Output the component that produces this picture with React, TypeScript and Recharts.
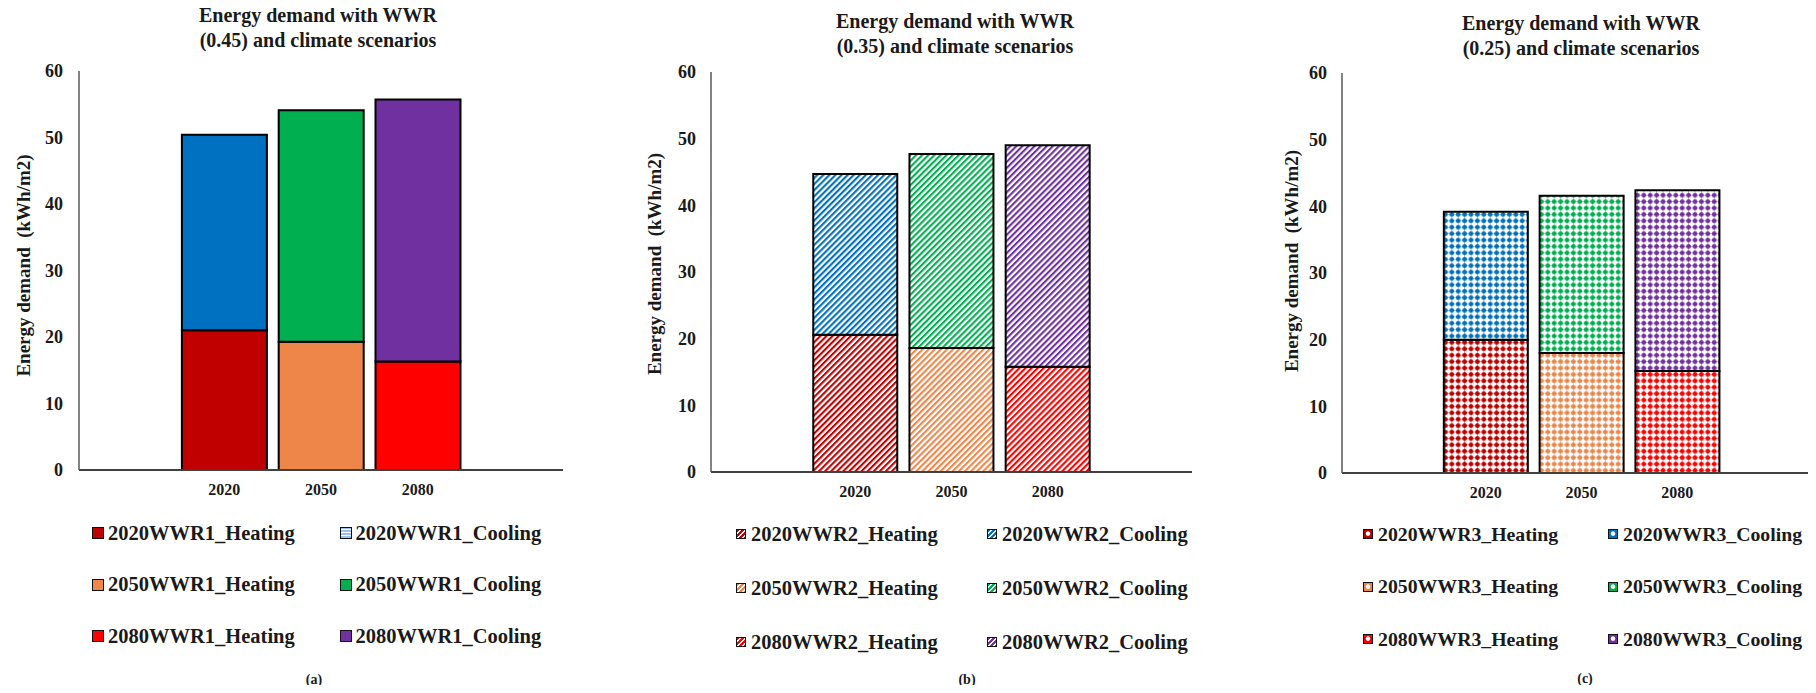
import React from 'react';
import { BarChart, Bar, XAxis, YAxis, Cell } from 'recharts';

// categories: an empty slot either side of the three years, as in the source chart
const categories = ['', '2020', '2050', '2080', ' '];
const years = ['2020', '2050', '2080'];
const yTicks = [0, 10, 20, 30, 40, 50, 60];

const heatingWWR1 = [21.0, 19.3, 16.3];
const coolingWWR1 = [29.4, 34.8, 39.4];
const heatingWWR2 = [20.6, 18.6, 15.8];
const coolingWWR2 = [24.1, 29.1, 33.2];
const heatingWWR3 = [20.0, 18.0, 15.3];
const coolingWWR3 = [19.2, 23.6, 27.1];

const heatingColors = ['#C00000', '#EE8649', '#FF0000'];
const coolingColors = ['#0070C0', '#00B050', '#7030A0'];

const FONT = "'Liberation Serif', 'Times New Roman', serif";
const INK = '#1a1a1a';

type Fill = 'solid' | 'stripes' | 'dots';

const panels = [
  {
    id: 'a', wwr: '0.45', tag: 'WWR1', fill: 'solid' as Fill,
    heating: heatingWWR1, cooling: coolingWWR1,
    left: 0, top: 71, bottom: 20, right: 37,
    labelDx: 23, labelDy: -5, tickGap: 16,
    titleX: 318, titleTop: 3,
    legendX: [92, 339.5], legendY: 533, legendStep: 51.5, box: 12, boxGap: 4, legendFont: 20.5,
    capX: 314, capY: 680,
  },
  {
    id: 'b', wwr: '0.35', tag: 'WWR2', fill: 'stripes' as Fill,
    heating: heatingWWR2, cooling: coolingWWR2,
    left: 632, top: 72, bottom: 18, right: 40,
    labelDx: 22, labelDy: -8, tickGap: 15,
    titleX: 955, titleTop: 9,
    legendX: [736, 987], legendY: 534, legendStep: 54, box: 10, boxGap: 5, legendFont: 20.5,
    capX: 967, capY: 680,
  },
  {
    id: 'c', wwr: '0.25', tag: 'WWR3', fill: 'dots' as Fill,
    heating: heatingWWR3, cooling: coolingWWR3,
    left: 1263, top: 73, bottom: 17, right: 42,
    labelDx: 28, labelDy: -12, tickGap: 15,
    titleX: 1581, titleTop: 11,
    legendX: [1363, 1608], legendY: 534, legendStep: 52.5, box: 10, boxGap: 5, legendFont: 19.8,
    capX: 1585, capY: 679,
  },
];

const AxisTitle = ({ viewBox, dx, dy }: any) => {
  const cx = viewBox.x + dx;
  const cy = viewBox.y + viewBox.height / 2 + dy;
  return (
    <text
      x={cx}
      y={cy}
      transform={`rotate(-90 ${cx} ${cy})`}
      textAnchor="middle"
      dominantBaseline="central"
      fill={INK}
      style={{ fontFamily: FONT, fontWeight: 700, fontSize: 19, whiteSpace: 'pre' }}
    >
      {'Energy demand  (kWh/m2)'}
    </text>
  );
};

function PatternDefs({ id, fill }: { id: string; fill: Fill }) {
  const all = [...heatingColors.map((c, i) => ['h' + i, c]), ...coolingColors.map((c, i) => ['c' + i, c])];
  if (fill === 'stripes') {
    return (
      <defs>
        {all.map(([k, c]) => (
          <pattern key={k} id={`${id}-${k}`} width={4.3} height={4.3} patternUnits="userSpaceOnUse" patternTransform="rotate(45)">
            <rect width={4.3} height={4.3} fill="#fff" />
            <rect width={2.1} height={4.3} fill={c} />
          </pattern>
        ))}
      </defs>
    );
  }
  if (fill === 'dots') {
    return (
      <defs>
        {all.map(([k, c]) => (
          <pattern key={k} id={`${id}-${k}`} width={6.4} height={6.4} patternUnits="userSpaceOnUse">
            <rect width={6.4} height={6.4} fill="#fff" />
            <path d="M0 3.2H6.4M3.2 0V6.4" stroke={c} strokeWidth={0.9} strokeOpacity={0.5} />
            <circle cx={3.2} cy={3.2} r={2.3} fill={c} />
          </pattern>
        ))}
      </defs>
    );
  }
  return null;
}

function swatchStyle(fill: Fill, color: string, odd: boolean): React.CSSProperties {
  if (fill === 'stripes') {
    return { background: `repeating-linear-gradient(135deg, ${color} 0 1.7px, #fff 1.7px 3.4px)` };
  }
  if (fill === 'dots') {
    return { background: `radial-gradient(circle at 50% 45%, #fff 0 30%, ${color} 45%)` };
  }
  if (odd) {
    return { background: 'repeating-linear-gradient(0deg, #9DC3E6 0 2px, #fff 2px 3px)' };
  }
  return { background: color };
}

function Panel({ p }: { p: (typeof panels)[number] }) {
  const data = categories.map((name) => {
    const i = years.indexOf(name);
    return { name, heating: i >= 0 ? p.heating[i] : null, cooling: i >= 0 ? p.cooling[i] : null };
  });
  const fillFor = (kind: 'h' | 'c', i: number) => {
    if (i < 0) return 'none';
    if (p.fill === 'solid') return kind === 'h' ? heatingColors[i] : coolingColors[i];
    return `url(#${p.id}-${kind}${i})`;
  };

  return (
    <>
      <div
        style={{
          position: 'absolute', left: p.titleX - 180, top: p.titleTop, width: 360,
          textAlign: 'center', fontSize: 20, fontWeight: 700, lineHeight: '25px', color: INK,
        }}
      >
        Energy demand with WWR
        <br />({p.wwr}) and climate scenarios
      </div>

      <div style={{ position: 'absolute', left: p.left, top: 0 }}>
        <BarChart
          width={600}
          height={520}
          data={data}
          margin={{ top: p.top, right: p.right, bottom: p.bottom, left: 0 }}
          barCategoryGap="6.3%"
        >
          <PatternDefs id={p.id} fill={p.fill} />
          <XAxis
            xAxisId="top"
            orientation="top"
            dataKey="name"
            height={0}
            tick={false}
            tickLine={false}
            axisLine={{ stroke: '#BFBFBF', strokeWidth: 1.5 }}
          />
          <YAxis
            yAxisId="right"
            orientation="right"
            width={0}
            domain={[0, 60]}
            tick={false}
            tickLine={false}
            axisLine={{ stroke: '#BFBFBF', strokeWidth: 1.5 }}
          />
          <XAxis
            dataKey="name"
            interval={0}
            height={30}
            tickLine={false}
            tickSize={0}
            tickMargin={14}
            axisLine={{ stroke: '#404040', strokeWidth: 2 }}
            tick={{ fill: INK, fontSize: 16, fontWeight: 700, fontFamily: FONT }}
          />
          <YAxis
            domain={[0, 60]}
            ticks={yTicks}
            interval={0}
            width={79}
            tickLine={false}
            tickSize={0}
            tickMargin={p.tickGap}
            axisLine={{ stroke: '#595959', strokeWidth: 1.5 }}
            tick={{ fill: INK, fontSize: 18, fontWeight: 700, fontFamily: FONT }}
            label={<AxisTitle dx={p.labelDx} dy={p.labelDy} />}
          />
          <Bar dataKey="heating" stackId="s" stroke="#000" strokeWidth={2} isAnimationActive={false}>
            {data.map((d, k) => (
              <Cell key={`h-${k}`} fill={fillFor('h', years.indexOf(d.name))} />
            ))}
          </Bar>
          <Bar dataKey="cooling" stackId="s" stroke="#000" strokeWidth={2} isAnimationActive={false}>
            {data.map((d, k) => (
              <Cell key={`c-${k}`} fill={fillFor('c', years.indexOf(d.name))} />
            ))}
          </Bar>
        </BarChart>
      </div>

      {years.map((y, i) =>
        (['Heating', 'Cooling'] as const).map((kind, col) => {
          const color = kind === 'Heating' ? heatingColors[i] : coolingColors[i];
          const odd = p.fill === 'solid' && kind === 'Cooling' && i === 0;
          return (
            <div
              key={`${y}-${kind}`}
              style={{
                position: 'absolute', left: p.legendX[col], top: p.legendY + i * p.legendStep - 13,
                height: 26, display: 'flex', alignItems: 'center', whiteSpace: 'nowrap',
              }}
            >
              <span
                style={{
                  display: 'inline-block', width: p.box, height: p.box, boxSizing: 'border-box',
                  border: '1.5px solid #111', marginRight: p.boxGap, ...swatchStyle(p.fill, color, odd),
                }}
              />
              <span style={{ fontSize: p.legendFont, fontWeight: 700, color: INK }}>{`${y}${p.tag}_${kind}`}</span>
            </div>
          );
        })
      )}

      <div
        style={{
          position: 'absolute', left: p.capX - 20, top: p.capY - 8, width: 40,
          textAlign: 'center', fontSize: 14, fontWeight: 700, color: INK, lineHeight: '16px',
        }}
      >
        ({p.id})
      </div>
    </>
  );
}

export default function App() {
  return (
    <div
      style={{
        position: 'relative', width: 1816, height: 693, margin: -8, overflow: 'hidden',
        background: '#fff', fontFamily: FONT,
      }}
    >
      {panels.map((p) => (
        <Panel key={p.id} p={p} />
      ))}
    </div>
  );
}
